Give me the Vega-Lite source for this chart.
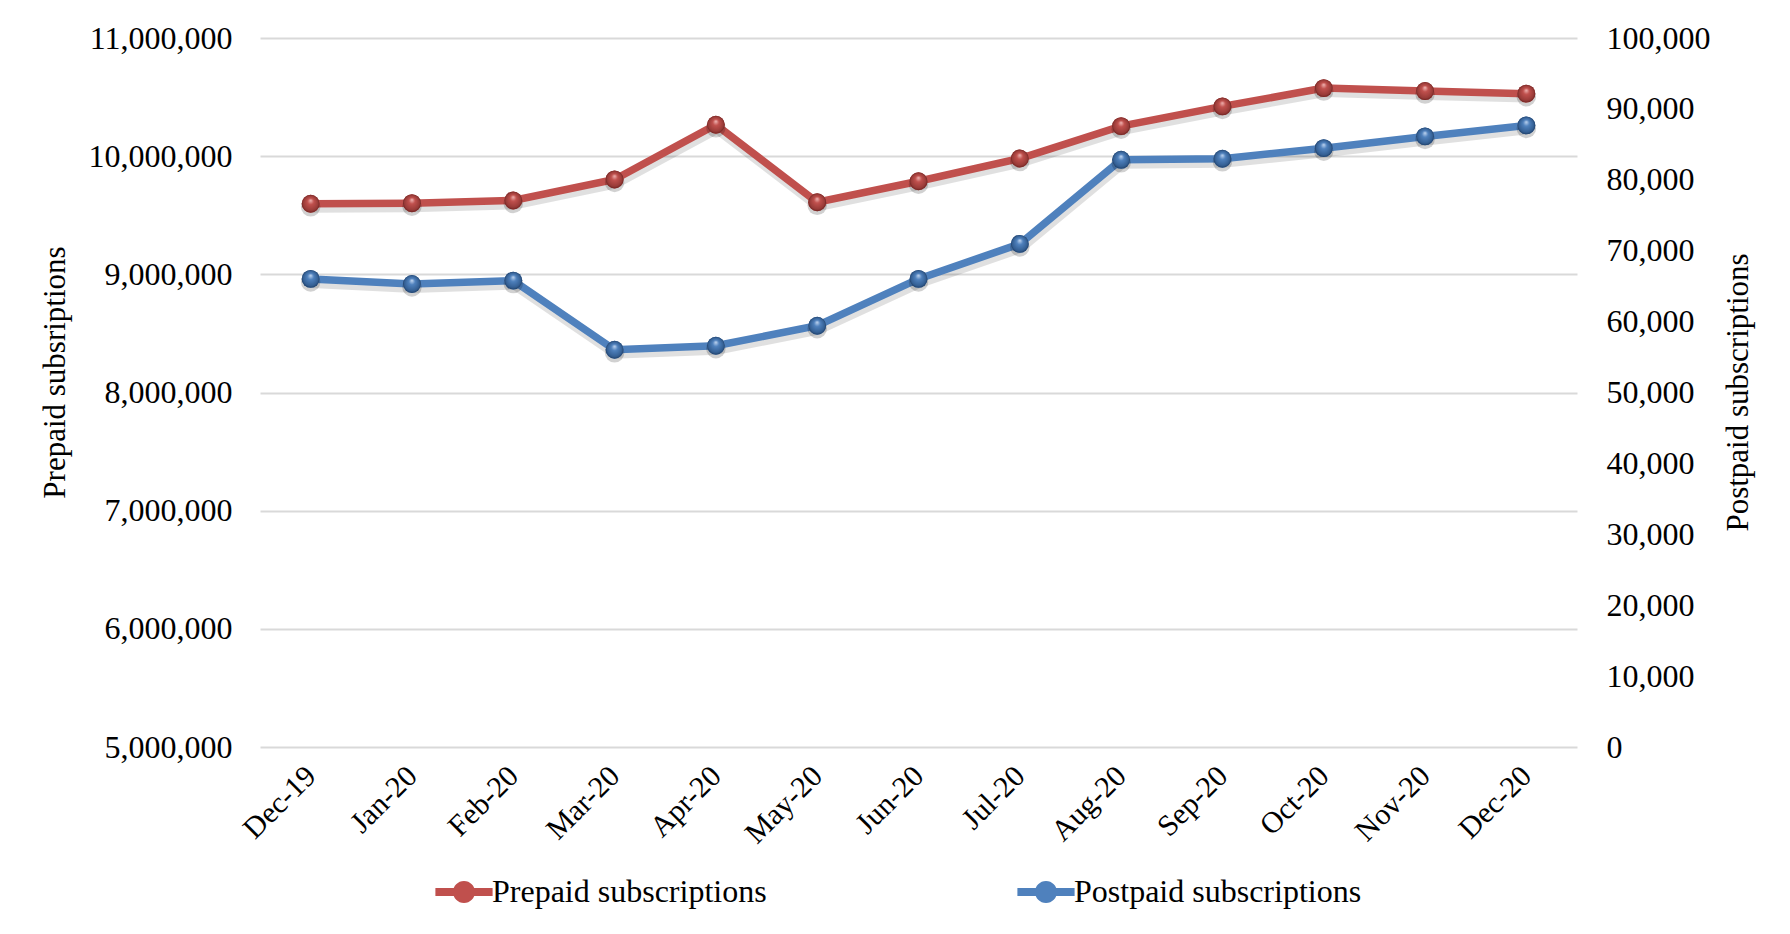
{
  "$schema": "https://vega.github.io/schema/vega-lite/v6.json",
  "width": 1317,
  "height": 709,
  "autosize": {"type": "none"},
  "padding": {"left": 260, "top": 38, "right": 213, "bottom": 187},
  "background": "white",
  "config": {
    "view": {"stroke": null},
    "font": "Liberation Serif",
    "axis": {"labelColor": "black", "titleColor": "black", "labelFont": "Liberation Serif", "titleFont": "Liberation Serif"}
  },
  "data": {
    "values": [
      {"month": "Dec-19", "prepaid": 9597000, "postpaid": 66020},
      {"month": "Jan-20", "prepaid": 9602000, "postpaid": 65310},
      {"month": "Feb-20", "prepaid": 9625000, "postpaid": 65780},
      {"month": "Mar-20", "prepaid": 9803000, "postpaid": 56030},
      {"month": "Apr-20", "prepaid": 10266000, "postpaid": 56600},
      {"month": "May-20", "prepaid": 9610000, "postpaid": 59420},
      {"month": "Jun-20", "prepaid": 9788000, "postpaid": 66020},
      {"month": "Jul-20", "prepaid": 9980000, "postpaid": 70960},
      {"month": "Aug-20", "prepaid": 10254000, "postpaid": 82820},
      {"month": "Sep-20", "prepaid": 10421000, "postpaid": 82970},
      {"month": "Oct-20", "prepaid": 10576000, "postpaid": 84460},
      {"month": "Nov-20", "prepaid": 10551000, "postpaid": 86120},
      {"month": "Dec-20", "prepaid": 10529000, "postpaid": 87670}
    ]
  },
  "encoding": {
    "x": {
      "field": "month",
      "type": "nominal",
      "sort": null,
      "scale": {"type": "point", "padding": 0.5},
      "axis": {
        "title": null,
        "labelAngle": -45,
        "labelAlign": "right",
        "labelBaseline": "middle",
        "labelPadding": 24,
        "labelFontSize": 30,
        "ticks": false,
        "domain": false,
        "grid": false
      }
    }
  },
  "layer": [
    {
      "encoding": {
        "y": {
          "field": "prepaid",
          "type": "quantitative",
          "scale": {"domain": [5000000, 11000000], "zero": false, "nice": false},
          "axis": {
            "orient": "left",
            "values": [5000000, 6000000, 7000000, 8000000, 9000000, 10000000, 11000000],
            "format": ",d",
            "labelFontSize": 32,
            "labelPadding": 28,
            "ticks": false,
            "domain": false,
            "grid": true,
            "gridColor": "#d9d9d9",
            "gridWidth": 2,
            "title": "Prepaid subsriptions",
            "titleFontSize": 31,
            "titleFontWeight": "normal",
            "titleAngle": -90,
            "titleBaseline": "alphabetic",
            "titleAlign": "center",
            "titleX": -196,
            "titleY": 334
          }
        }
      },
      "layer": [
        {"mark": {"type": "line", "color": "#000000", "opacity": 0.12, "strokeWidth": 10, "yOffset": 4, "xOffset": 1}},
        {"mark": {"type": "line", "color": "#C0504D", "strokeWidth": 7.5}},
        {"mark": {"type": "point", "shape": "circle", "filled": true, "color": "#000000", "opacity": 0.18, "size": 380, "yOffset": 3}},
        {
          "mark": {"type": "point", "shape": "circle", "filled": true, "opacity": 1, "size": 320},
          "encoding": {
            "color": {
              "datum": "Prepaid subscriptions",
              "type": "nominal",
              "scale": {"domain": ["Prepaid subscriptions", "Postpaid subscriptions"], "range": ["#C0504D", "#4F81BD"]},
              "legend": {
                "title": null,
                "orient": "none",
                "direction": "horizontal",
                "legendX": 188,
                "legendY": 838,
                "padding": 0,
                "symbolType": "M-2.6,-0.36H2.6V0.36H-2.6Z M1,0A1,1,0,1,1,-1,0A1,1,0,1,1,1,0Z",
                "symbolSize": 484,
                "symbolStrokeWidth": 0,
                "symbolOpacity": 1,
                "labelFont": "Liberation Serif",
                "labelFontSize": 32,
                "labelColor": "black",
                "labelOffset": 12,
                "labelLimit": 600,
                "columnPadding": 250
              }
            }
          }
        },
        {
          "mark": {
            "type": "point",
            "shape": "circle",
            "filled": true,
            "opacity": 1,
            "size": 320,
            "strokeWidth": 0,
            "fill": {
              "gradient": "radial",
              "x1": 0.5, "y1": 0.3, "r1": 0,
              "x2": 0.5, "y2": 0.5, "r2": 0.5,
              "stops": [
                {"offset": 0, "color": "#f2b9b7"},
                {"offset": 0.35, "color": "#c0504d"},
                {"offset": 0.85, "color": "#973a37"},
                {"offset": 1, "color": "#6e2422"}
              ]
            }
          }
        }
      ]
    },
    {
      "encoding": {
        "y": {
          "field": "postpaid",
          "type": "quantitative",
          "scale": {"domain": [0, 100000], "nice": false},
          "axis": {
            "orient": "right",
            "values": [0, 10000, 20000, 30000, 40000, 50000, 60000, 70000, 80000, 90000, 100000],
            "format": ",d",
            "labelFontSize": 32,
            "labelPadding": 29,
            "ticks": false,
            "domain": false,
            "grid": false,
            "title": "Postpaid subscriptions",
            "titleFontSize": 31,
            "titleFontWeight": "normal",
            "titleAngle": -90,
            "titleBaseline": "alphabetic",
            "titleAlign": "center",
            "titleX": 170,
            "titleY": 354
          }
        }
      },
      "layer": [
        {"mark": {"type": "line", "color": "#000000", "opacity": 0.12, "strokeWidth": 10, "yOffset": 4, "xOffset": 1}},
        {"mark": {"type": "line", "color": "#4F81BD", "strokeWidth": 7.5}},
        {"mark": {"type": "point", "shape": "circle", "filled": true, "color": "#000000", "opacity": 0.18, "size": 380, "yOffset": 3}},
        {
          "mark": {"type": "point", "shape": "circle", "filled": true, "opacity": 1, "size": 320},
          "encoding": {"color": {"datum": "Postpaid subscriptions", "type": "nominal"}}
        },
        {
          "mark": {
            "type": "point",
            "shape": "circle",
            "filled": true,
            "opacity": 1,
            "size": 320,
            "strokeWidth": 0,
            "fill": {
              "gradient": "radial",
              "x1": 0.5, "y1": 0.3, "r1": 0,
              "x2": 0.5, "y2": 0.5, "r2": 0.5,
              "stops": [
                {"offset": 0, "color": "#c4d8f2"},
                {"offset": 0.35, "color": "#4f81bd"},
                {"offset": 0.85, "color": "#335e92"},
                {"offset": 1, "color": "#213f66"}
              ]
            }
          }
        }
      ]
    }
  ],
  "resolve": {"scale": {"y": "independent"}}
}
